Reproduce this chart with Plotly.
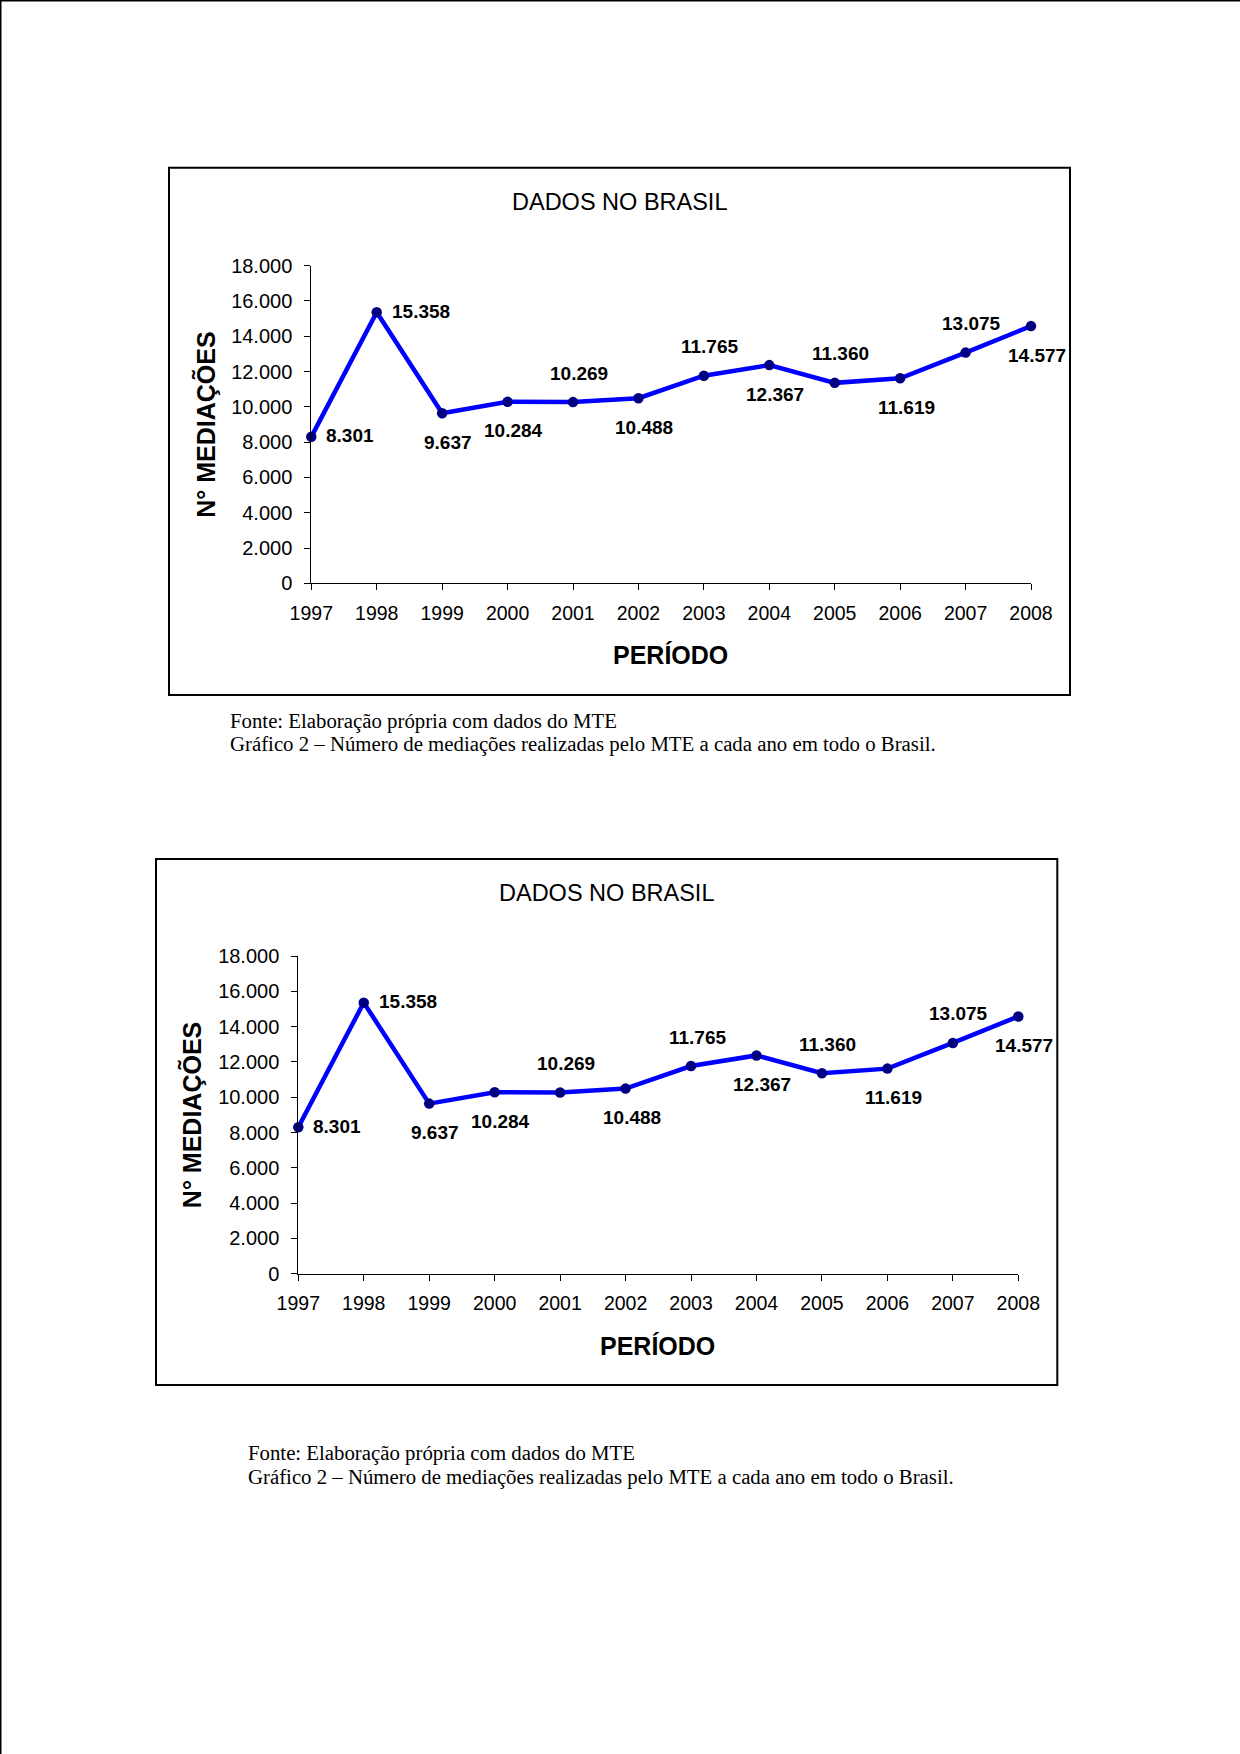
import plotly.graph_objects as go

# ---- data ----
years = [1997, 1998, 1999, 2000, 2001, 2002, 2003, 2004, 2005, 2006, 2007, 2008]
mediacoes = [8301, 15358, 9637, 10284, 10269, 10488, 11765, 12367, 11360, 11619, 13075, 14577]
y_ticks = [0, 2000, 4000, 6000, 8000, 10000, 12000, 14000, 16000, 18000]
chart_title = "DADOS NO BRASIL"
x_title = "PERÍODO"
y_title = "N° MEDIAÇÕES"
caption_1 = "Fonte: Elaboração própria com dados do MTE"
caption_2 = "Gráfico 2 – Número de mediações realizadas pelo MTE a cada ano em todo o Brasil."

# label placement (style): r = right, a = above, b = below
label_pos = ["r", "r", "b", "b", "a", "b", "a", "b", "a", "b", "a", "b"]

W, H = 1240, 1754
SANS = "Liberation Sans, Arial, sans-serif"
SERIF = "Liberation Serif, Times New Roman, serif"


def fx(px):
    return px / W


def fy(py):
    return 1 - py / H


def fmt(v):
    return f"{v:,}".replace(",", ".")


fig = go.Figure()

# layout of each chart (pixel geometry)
charts = [
    dict(xa="x", ya="y", x0=311.3, x1=1031.0, ytop=265.7, ybot=583.3,
         box=(169, 167.7, 1070, 695), cap_x=227.7, cap_y=(721, 744)),
    dict(xa="x2", ya="y2", x0=298.3, x1=1018.3, ytop=956.0, ybot=1273.7,
         box=(156, 859, 1057.3, 1385), cap_x=246, cap_y=(1453, 1477)),
]

annotations = []
shapes = []

for i, c in enumerate(charts):
    fig.add_trace(go.Scatter(
        x=years, y=mediacoes, mode="lines+markers",
        line=dict(color="#0000FF", width=4.5),
        marker=dict(color="#000080", size=10.5),
        xaxis=c["xa"], yaxis=c["ya"], cliponaxis=False,
        showlegend=False, hoverinfo="skip",
    ))
    sfx = "" if i == 0 else "2"
    fig.update_layout(**{
        f"xaxis{sfx}": dict(
            domain=[fx(c["x0"]), fx(c["x1"])], range=[years[0], years[-1]],
            tickmode="array", tickvals=years, ticktext=[str(y) for y in years],
            showline=True, linecolor="black", linewidth=1,
            ticks="outside", ticklen=6, tickcolor="black", tickwidth=1,
            showgrid=False, zeroline=False, automargin=False,
            tickfont=dict(family=SANS, size=19.5, color="black"),
            ticklabelstandoff=6,
            anchor=c["ya"], fixedrange=True,
        ),
        f"yaxis{sfx}": dict(
            domain=[fy(c["ybot"]), fy(c["ytop"])], range=[0, 18000],
            tickmode="array", tickvals=y_ticks, ticktext=[fmt(v) for v in y_ticks],
            showline=True, linecolor="black", linewidth=1,
            ticks="outside", ticklen=6, tickcolor="black", tickwidth=1,
            showgrid=False, zeroline=False, automargin=False,
            tickfont=dict(family=SANS, size=20, color="black"),
            ticklabelstandoff=8,
            anchor=c["xa"], fixedrange=True,
        ),
    })

    # data labels
    for yr, v, p in zip(years, mediacoes, label_pos):
        a = dict(x=yr, y=v, xref=c["xa"], yref=c["ya"], text=fmt(v), showarrow=False,
                 font=dict(family=SANS, size=19, color="black", weight="bold"))
        if p == "r":
            a.update(xanchor="left", yanchor="middle", xshift=13, yshift=1)
        elif p == "a":
            a.update(xanchor="center", yanchor="middle", xshift=6, yshift=29)
        else:
            a.update(xanchor="center", yanchor="middle", xshift=6, yshift=-29)
        annotations.append(a)

    bx0, by0, bx1, by1 = c["box"]
    cx = (bx0 + bx1) / 2
    pcx = (c["x0"] + c["x1"]) / 2
    pcy = (c["ytop"] + c["ybot"]) / 2
    # chart title
    annotations.append(dict(x=fx(cx), y=fy(by0 + 34), xref="paper", yref="paper",
                            text=chart_title, showarrow=False, xanchor="center", yanchor="middle",
                            font=dict(family=SANS, size=23.5, color="black")))
    # axis titles
    annotations.append(dict(x=fx(c["x0"] - 106), y=fy(pcy), xref="paper", yref="paper",
                            text=y_title, showarrow=False, textangle=-90,
                            xanchor="center", yanchor="middle",
                            font=dict(family=SANS, size=25, color="black", weight="bold")))
    annotations.append(dict(x=fx(pcx - 1), y=fy(c["ybot"] + 72), xref="paper", yref="paper",
                            text=x_title, showarrow=False, xanchor="center", yanchor="middle",
                            font=dict(family=SANS, size=25, color="black", weight="bold")))
    # captions
    for txt, cy in zip([caption_1, caption_2], c["cap_y"]):
        annotations.append(dict(x=fx(c["cap_x"]), y=fy(cy), xref="paper", yref="paper",
                                text=txt, showarrow=False, xanchor="left", yanchor="middle",
                                font=dict(family=SERIF, size=20.8, color="black")))
    # chart frame
    shapes.append(dict(type="rect", xref="paper", yref="paper",
                       x0=fx(bx0), x1=fx(bx1), y0=fy(by1), y1=fy(by0),
                       line=dict(color="black", width=2), fillcolor="rgba(0,0,0,0)"))

# page border (top and left edges)
shapes.append(dict(type="line", xref="paper", yref="paper", x0=0, x1=1, y0=fy(0.5), y1=fy(0.5),
                   line=dict(color="black", width=2)))
shapes.append(dict(type="line", xref="paper", yref="paper", x0=fx(0.5), x1=fx(0.5), y0=0, y1=1,
                   line=dict(color="black", width=2)))

fig.update_layout(
    template="none",
    width=W, height=H, margin=dict(l=0, r=0, t=0, b=0, pad=0, autoexpand=False),
    paper_bgcolor="white", plot_bgcolor="white",
    annotations=annotations, shapes=shapes, showlegend=False,
)

fig.write_html(
    "out.html",
    config={"displayModeBar": False},
    post_script="document.body.style.margin='0';document.body.style.overflow='hidden';",
)
